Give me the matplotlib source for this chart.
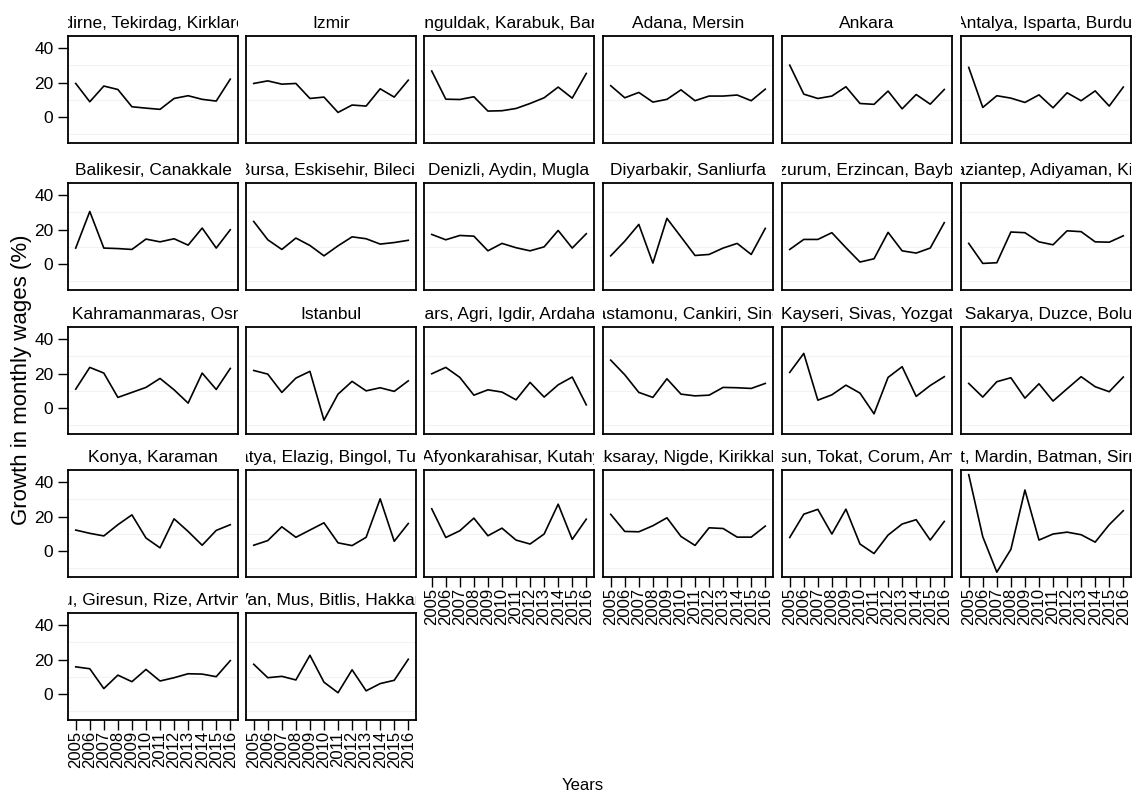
import matplotlib
matplotlib.use('Agg')
import matplotlib.pyplot as plt
from matplotlib.transforms import Bbox, TransformedBbox

plt.rcParams['font.family'] = ['Liberation Sans', 'DejaVu Sans']

years = [2005, 2006, 2007, 2008, 2009, 2010, 2011, 2012, 2013, 2014, 2015, 2016]

# growth in monthly wages (%) by NUTS-2 region
edirne = [19.5, 8.9, 18.0, 16.0, 6.0, 5.2, 4.5, 10.8, 12.4, 10.3, 9.3, 22.0]
izmir = [19.5, 21.0, 19.1, 19.5, 10.8, 11.6, 2.7, 7.0, 6.4, 16.4, 11.6, 21.4]
zonguldak = [26.7, 10.4, 10.2, 11.8, 3.5, 3.7, 5.0, 7.9, 11.2, 17.4, 11.0, 25.3]
adana = [18.2, 11.2, 14.3, 8.7, 10.3, 15.8, 9.5, 12.2, 12.2, 12.8, 9.5, 16.2]
ankara = [30.1, 13.3, 10.8, 12.2, 17.6, 7.9, 7.4, 15.1, 4.8, 13.1, 7.5, 16.0]
antalya = [28.8, 5.6, 12.4, 11.0, 8.5, 12.9, 5.4, 14.1, 9.5, 15.2, 6.4, 17.4]

balikesir = [9.3, 30.5, 9.3, 9.0, 8.5, 14.5, 12.9, 14.7, 11.0, 20.9, 9.3, 19.9]
bursa = [24.7, 14.1, 8.5, 15.1, 10.8, 4.8, 10.6, 15.8, 14.7, 11.6, 12.5, 13.8]
denizli = [17.2, 14.1, 16.6, 16.2, 7.7, 12.0, 9.5, 7.7, 10.0, 19.5, 9.3, 17.6]
diyarbakir = [4.8, 13.3, 23.0, 0.6, 26.5, 15.8, 5.0, 5.6, 9.3, 12.0, 5.6, 20.7]
erzurum = [8.5, 14.3, 14.3, 18.2, 9.5, 1.2, 3.1, 18.4, 7.7, 6.4, 9.3, 24.0]
gaziantep = [12.0, 0.4, 0.8, 18.6, 18.2, 12.9, 11.2, 19.3, 18.8, 12.9, 12.7, 16.4]

kahramanmaras = [11.0, 23.6, 20.3, 6.2, 9.1, 12.0, 17.2, 10.6, 2.9, 20.3, 10.8, 23.0]
istanbul = [21.8, 19.7, 9.1, 17.4, 21.3, -7.0, 8.1, 15.5, 10.0, 11.8, 9.7, 15.8]
kars = [19.9, 23.6, 17.8, 7.5, 10.6, 9.3, 4.8, 14.9, 6.4, 13.5, 18.0, 1.9]
kastamonu = [27.8, 19.3, 9.1, 6.2, 17.0, 8.1, 7.1, 7.5, 12.0, 11.8, 11.4, 14.3]
kayseri = [20.7, 31.7, 4.6, 7.7, 13.3, 8.7, -3.3, 17.8, 24.0, 6.8, 13.1, 18.2]
kocaeli = [14.3, 6.4, 15.3, 17.6, 5.8, 14.1, 4.1, 11.2, 18.2, 12.4, 9.5, 18.0]

konya = [12.2, 10.3, 8.8, 15.3, 21.0, 7.6, 1.9, 18.7, 11.4, 3.4, 12.0, 15.3]
malatya = [3.4, 6.1, 14.1, 8.0, 12.2, 16.4, 4.8, 3.2, 8.0, 30.3, 5.7, 16.0]
manisa = [24.5, 7.9, 11.8, 19.1, 8.9, 13.3, 6.4, 4.1, 9.9, 27.2, 6.8, 18.5]
aksaray = [21.3, 11.4, 11.2, 14.7, 19.3, 8.5, 3.3, 13.5, 13.1, 8.1, 8.1, 14.5]
samsun = [7.9, 21.4, 24.2, 9.9, 24.3, 4.1, -1.4, 9.3, 15.7, 18.2, 6.4, 17.2]
mardin = [44.3, 8.3, -12.2, 1.0, 35.4, 6.4, 9.9, 11.0, 9.5, 5.2, 15.3, 23.4]

trabzon = [15.8, 14.7, 3.2, 11.0, 7.2, 14.3, 7.6, 9.5, 11.8, 11.6, 10.1, 19.4]
van = [17.3, 9.5, 10.3, 8.2, 22.5, 6.9, 0.8, 14.1, 1.9, 6.1, 8.0, 20.2]

panels = [
    ("Edirne, Tekirdag, Kirklareli", edirne),
    ("Izmir", izmir),
    ("Zonguldak, Karabuk, Bartin", zonguldak),
    ("Adana, Mersin", adana),
    ("Ankara", ankara),
    ("Antalya, Isparta, Burdur", antalya),
    ("Balikesir, Canakkale", balikesir),
    ("Bursa, Eskisehir, Bilecik", bursa),
    ("Denizli, Aydin, Mugla", denizli),
    ("Diyarbakir, Sanliurfa", diyarbakir),
    ("Erzurum, Erzincan, Bayburt", erzurum),
    ("Gaziantep, Adiyaman, Kilis", gaziantep),
    ("Hatay, Kahramanmaras, Osmaniye", kahramanmaras),
    ("Istanbul", istanbul),
    ("Kars, Agri, Igdir, Ardahan", kars),
    ("Kastamonu, Cankiri, Sinop", kastamonu),
    ("Kayseri, Sivas, Yozgat", kayseri),
    ("Kocaeli, Sakarya, Duzce, Bolu, Yalova", kocaeli),
    ("Konya, Karaman", konya),
    ("Malatya, Elazig, Bingol, Tunceli", malatya),
    ("Manisa, Afyonkarahisar, Kutahya, Usak", manisa),
    ("Aksaray, Nigde, Kirikkale", aksaray),
    ("Samsun, Tokat, Corum, Amasya", samsun),
    ("Siirt, Mardin, Batman, Sirnak", mardin),
    ("Trabzon, Ordu, Giresun, Rize, Artvin, Gumushane", trabzon),
    ("Van, Mus, Bitlis, Hakkari", van),
]

W, H = 1139, 793
fig = plt.figure(figsize=(W / 100, H / 100), dpi=100)
fig.patch.set_facecolor('white')

# grid of panels in pixel units
col_left = [68, 246, 424, 603, 782, 961]
row_top = [36, 183, 327, 470, 613]
pw, ph = 170, 107
ncol = 6
n = len(panels)

for i, (name, vals) in enumerate(panels):
    r, c = divmod(i, ncol)
    ax = fig.add_axes([col_left[c] / W, 1 - (row_top[r] + ph) / H, pw / W, ph / H])
    for g in (-10, 10, 30):
        ax.axhline(g, color='#f3f3f3', lw=0.8, zorder=0)
    ax.plot(years, vals, color='black', lw=1.2)
    ax.set_xlim(2004.45, 2016.55)
    ax.set_ylim(-15, 47)
    ax.set_xticks(years)
    ax.set_yticks([0, 20, 40])
    for sp in ax.spines.values():
        sp.set_linewidth(1.3)

    if c == 0:
        ax.tick_params(axis='y', direction='out', length=7.5, width=1,
                       labelsize=12.5, pad=3)
    else:
        ax.tick_params(axis='y', left=False, labelleft=False)

    # bottom panel of each column carries the year labels
    if i + ncol >= n:
        ax.set_xticklabels([str(y) for y in years], rotation=90)
        ax.tick_params(axis='x', direction='out', length=7, width=1,
                       labelsize=12, pad=1)
    else:
        ax.tick_params(axis='x', bottom=False, labelbottom=False)

    t = ax.set_title(name, fontsize=12.5, pad=6)
    t.set_clip_box(TransformedBbox(Bbox([[0, 1], [1, 1.6]]), ax.transAxes))
    t.set_clip_on(True)

fig.text(22 / W, 1 - 380 / H, "Growth in monthly wages (%)", rotation=90,
         ha='center', va='center', fontsize=16)
fig.text(583 / W, 1 - 786 / H, "Years", ha='center', va='center', fontsize=12)

fig.savefig('out.png', dpi=100)
